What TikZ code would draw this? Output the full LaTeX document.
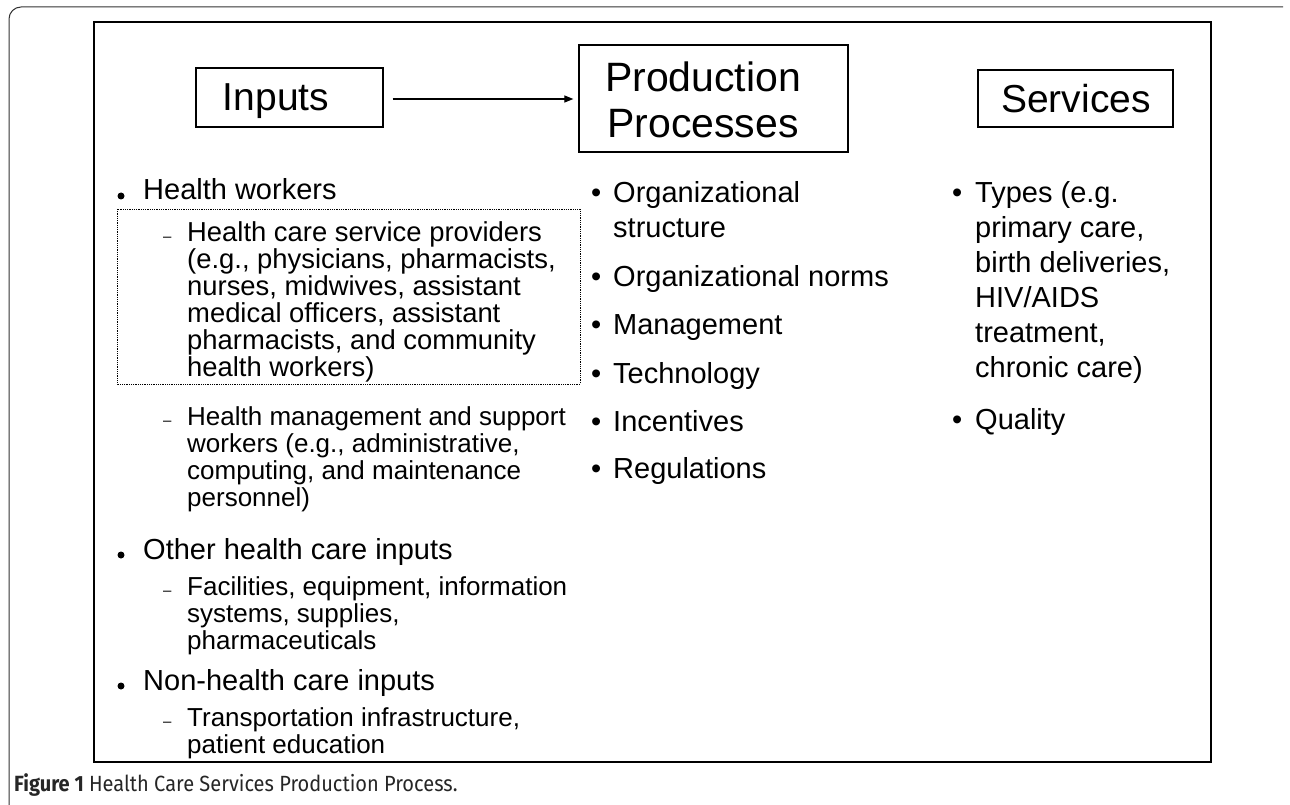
\documentclass[tikz,border=0pt]{standalone}
\usepackage{fontspec}
\setmainfont{Liberation Sans}
\newfontfamily\capfont[FakeStretch=0.91]{Fira Sans}
\usetikzlibrary{arrows.meta}
\newcommand\blk[2]{\parbox[t]{#1pt}{\raggedright #2}}
\begin{document}
\begin{tikzpicture}[x=1pt,y=-1pt,
  hbox/.style={draw, line width=1.3pt, inner sep=0pt},
  htxt/.style={inner sep=0pt, align=center, font=\fontsize{39}{46}\selectfont},
  maintxt/.style={anchor=base west, inner sep=0pt, font=\fontsize{29}{35}\selectfont},
  subtxt/.style={anchor=base west, inner sep=0pt, font=\fontsize{26}{27}\selectfont},
  dotb/.style={circle, fill=black, inner sep=0pt, minimum size=7pt},
  rbul/.style={anchor=base west, inner sep=0pt, font=\fontsize{29}{35}\selectfont},
  dashb/.style={anchor=base west, inner sep=0pt, font=\fontsize{15}{15}\selectfont},
  frameline/.style={draw=black!80, line width=1pt}
]
\useasboundingbox (0,0) rectangle (1290,805);
% outer page frame
\draw[frameline, rounded corners=12pt] (9,805) -- (9,7) -- (1283,7);
% main box
\draw[line width=1.4pt] (94,22) rectangle (1211,762);
% header boxes
\node[hbox, minimum width=187pt, minimum height=59pt] (inp) at (289.5,97.5) {};
\node[htxt] (inpt) at (276,101) {Inputs};
\node[hbox, minimum width=269pt, minimum height=107pt] (prod) at (713.5,98.5) {};
\node[htxt, font=\fontsize{41}{46}\selectfont] (prodt) at (703,100) {Production\\Processes};
\node[hbox, minimum width=195pt, minimum height=57pt] (serv) at (1075.5,98.5) {};
\node[htxt] (servt) at (1076,99) {Services};
\draw[line width=1.2pt, -{Triangle[length=9pt,width=7pt]}, shorten <=9pt, shorten >=5pt]
  (inp.east |- 0,99) -- (prod.west |- 0,99);
% left column
\node[dotb] (b1) at (121,196) {};
\node[maintxt] (t1) at (143,200) {Health workers};
\draw[densely dotted, line width=0.8pt] (117,209) rectangle (580,384);
\node[dashb] (d1) at (163,241) {–};
\node[subtxt, font=\fontsize{27.4}{27}\selectfont] (s1) at (187,241) {\blk{400}{Health care service providers\\(e.g., physicians, pharmacists,\\nurses, midwives, assistant\\medical officers, assistant\\pharmacists, and community\\health workers)}};
\node[dashb] (d2) at (163,425) {–};
\node[subtxt] (s2) at (187,425) {\blk{400}{Health management and support\\workers (e.g., administrative,\\computing, and maintenance\\personnel)}};
\node[dotb] (b2) at (121,555) {};
\node[maintxt] (t2) at (143,559) {Other health care inputs};
\node[dashb] (d3) at (163,595) {–};
\node[subtxt] (s3) at (187,595) {\blk{400}{Facilities, equipment, information\\systems, supplies,\\pharmaceuticals}};
\node[dotb] (b3) at (121,686) {};
\node[maintxt] (t3) at (143,690) {Non-health care inputs};
\node[dashb] (d4) at (163,726) {–};
\node[subtxt] (s4) at (187,726) {\blk{400}{Transportation infrastructure,\\patient education}};
% middle column
\node[rbul] (m1b) at (591,203) {•};
\node[maintxt] (m1) at (613,203) {\blk{300}{Organizational\\structure}};
\node[rbul] (m2b) at (591,286) {•};
\node[maintxt] (m2) at (613,286) {Organizational norms};
\node[rbul] (m3b) at (591,334) {•};
\node[maintxt] (m3) at (613,334) {Management};
\node[rbul] (m4b) at (591,383) {•};
\node[maintxt] (m4) at (613,383) {Technology};
\node[rbul] (m5b) at (591,431) {•};
\node[maintxt] (m5) at (613,431) {Incentives};
\node[rbul] (m6b) at (591,478) {•};
\node[maintxt] (m6) at (613,478) {Regulations};
% right column
\node[rbul] (r1b) at (952,203) {•};
\node[maintxt] (r1) at (975,203) {\blk{230}{Types (e.g.\\primary care,\\birth deliveries,\\HIV/AIDS\\treatment,\\chronic care)}};
\node[rbul] (r2b) at (952,429) {•};
\node[maintxt] (r2) at (975,429) {Quality};
% caption
\node[anchor=base west, inner sep=0pt, text=black!85, font=\capfont\fontsize{22}{26}\selectfont] (cap) at (14,791)
  {\textbf{Figure 1} Health Care Services Production Process.};
\end{tikzpicture}
\end{document}
